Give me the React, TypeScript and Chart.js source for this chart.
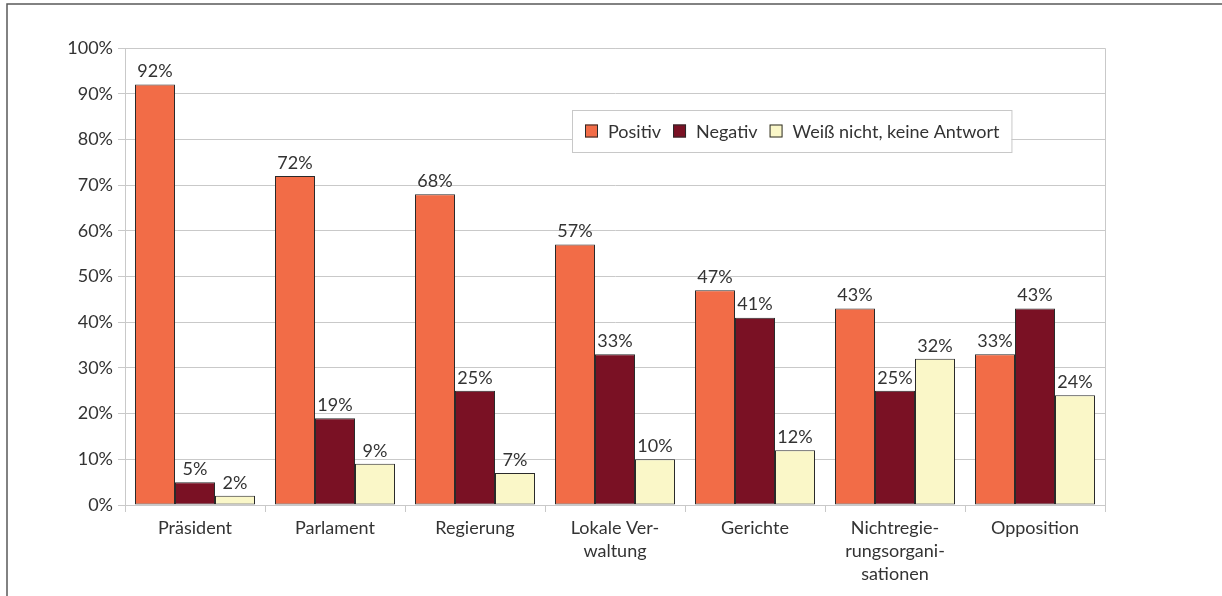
import React, { useEffect, useRef } from "react";
import { Chart, registerables } from "chart.js";

Chart.register(...registerables);

const categories: (string | string[])[] = [
  "Präsident",
  "Parlament",
  "Regierung",
  ["Lokale Ver-", "waltung"],
  "Gerichte",
  ["Nichtregie-", "rungsorgani-", "sationen"],
  "Opposition",
];

const positiv = [92, 72, 68, 57, 47, 43, 33];
const negativ = [5, 19, 25, 33, 41, 25, 43];
const weissNicht = [2, 9, 7, 10, 12, 32, 24];

const seriesNames = ["Positiv", "Negativ", "Weiß nicht, keine Antwort"];
const seriesColors = ["#F26C47", "#7A1124", "#FAF7C8"];

const yTicks = [0, 10, 20, 30, 40, 50, 60, 70, 80, 90, 100];

const FONT = "Lato, 'Open Sans', sans-serif";
const FONT_SIZE = 18;
const TEXT = "#333333";
const GRID = "#c9c9c9";

// Frame around the figure, plot border, value labels and the legend box.
const decorations = {
  id: "decorations",
  beforeDraw(chart: any) {
    const { ctx, width, height } = chart;
    ctx.save();
    ctx.fillStyle = "#ffffff";
    ctx.fillRect(0, 0, width, height);
    ctx.strokeStyle = "#5a5a5a";
    ctx.lineWidth = 1.5;
    ctx.beginPath();
    ctx.moveTo(7, height);
    ctx.lineTo(7, 4);
    ctx.lineTo(width, 4);
    ctx.stroke();
    ctx.restore();
  },
  afterDatasetsDraw(chart: any) {
    const { ctx, chartArea } = chart;
    ctx.save();
    // plot border (top and right edges)
    ctx.strokeStyle = GRID;
    ctx.lineWidth = 1;
    ctx.beginPath();
    ctx.moveTo(Math.round(chartArea.left) + 0.5, Math.round(chartArea.top) + 0.5);
    ctx.lineTo(Math.round(chartArea.right) + 0.5, Math.round(chartArea.top) + 0.5);
    ctx.lineTo(Math.round(chartArea.right) + 0.5, Math.round(chartArea.bottom) + 0.5);
    ctx.stroke();

    // value labels
    ctx.fillStyle = TEXT;
    ctx.font = `${FONT_SIZE}px ${FONT}`;
    ctx.textAlign = "center";
    ctx.textBaseline = "bottom";
    chart.data.datasets.forEach((ds: any, i: number) => {
      const meta = chart.getDatasetMeta(i);
      meta.data.forEach((bar: any, j: number) => {
        ctx.fillText(`${ds.data[j]}%`, bar.x, bar.y - 4);
      });
    });

    // legend
    const boxLeft = 572;
    const boxTop = 110;
    const boxH = 42;
    const sq = 13;
    const gap = 12;
    ctx.font = `${FONT_SIZE}px ${FONT}`;
    ctx.textAlign = "left";
    ctx.textBaseline = "middle";
    let x = boxLeft + 13;
    const items = chart.data.datasets.map((ds: any) => {
      const w = ctx.measureText(ds.label).width;
      const item = { x, w, label: ds.label, color: ds.backgroundColor };
      x += sq + 10 + w + gap;
      return item;
    });
    const boxRight = x - gap + 12;
    ctx.fillStyle = "#ffffff";
    ctx.fillRect(boxLeft, boxTop, boxRight - boxLeft, boxH);
    ctx.strokeStyle = "#c8c8c8";
    ctx.lineWidth = 1;
    ctx.strokeRect(boxLeft + 0.5, boxTop + 0.5, boxRight - boxLeft, boxH);
    const cy = boxTop + boxH / 2;
    items.forEach((it: any) => {
      ctx.fillStyle = it.color;
      ctx.fillRect(it.x, cy - sq / 2, sq, sq);
      ctx.strokeStyle = "#2a2a2a";
      ctx.strokeRect(it.x + 0.5, cy - sq / 2 + 0.5, sq - 1, sq - 1);
      ctx.fillStyle = TEXT;
      ctx.fillText(it.label, it.x + sq + 10, cy + 1);
    });
    ctx.restore();
  },
};

export default function App() {
  const canvasRef = useRef<HTMLCanvasElement | null>(null);

  useEffect(() => {
    document.body.style.margin = "0";
    const canvas = canvasRef.current;
    if (!canvas) return;
    const values = [positiv, negativ, weissNicht];
    const chart = new Chart(canvas, {
      type: "bar",
      data: {
        labels: categories,
        datasets: values.map((data, i) => ({
          label: seriesNames[i],
          data,
          backgroundColor: seriesColors[i],
          borderColor: "#2a2a2a",
          borderWidth: 1,
          borderSkipped: false,
          barPercentage: 1,
          categoryPercentage: 120 / 140,
        })),
      },
      options: {
        responsive: false,
        animation: false,
        devicePixelRatio: 1,
        layout: { padding: { left: 0, top: 48, right: 117, bottom: 0 } },
        plugins: {
          legend: { display: false },
          tooltip: { enabled: false },
        },
        scales: {
          x: {
            offset: true,
            grid: {
              offset: true,
              drawOnChartArea: false,
              drawTicks: true,
              tickLength: 7,
              color: GRID,
            },
            border: { display: true, color: GRID },
            ticks: {
              color: TEXT,
              font: { family: FONT, size: FONT_SIZE, lineHeight: 1.27 },
              padding: 5,
              maxRotation: 0,
              autoSkip: false,
            },
            afterFit(scale: any) {
              scale.height = 91;
            },
          },
          y: {
            min: 0,
            max: 100,
            afterBuildTicks(scale: any) {
              scale.ticks = yTicks.map((v) => ({ value: v }));
            },
            grid: {
              color: GRID,
              tickLength: 7,
              drawTicks: true,
            },
            border: { display: true, color: GRID },
            ticks: {
              color: TEXT,
              font: { family: FONT, size: FONT_SIZE },
              padding: 5,
              callback: (v: any) => `${v}%`,
            },
            afterFit(scale: any) {
              scale.width = 125;
            },
          },
        },
      },
      plugins: [decorations],
    });
    return () => chart.destroy();
  }, []);

  return (
    <div style={{ position: "absolute", left: 0, top: 0, width: 1222, height: 596 }}>
      <canvas ref={canvasRef} width={1222} height={596} />
    </div>
  );
}
